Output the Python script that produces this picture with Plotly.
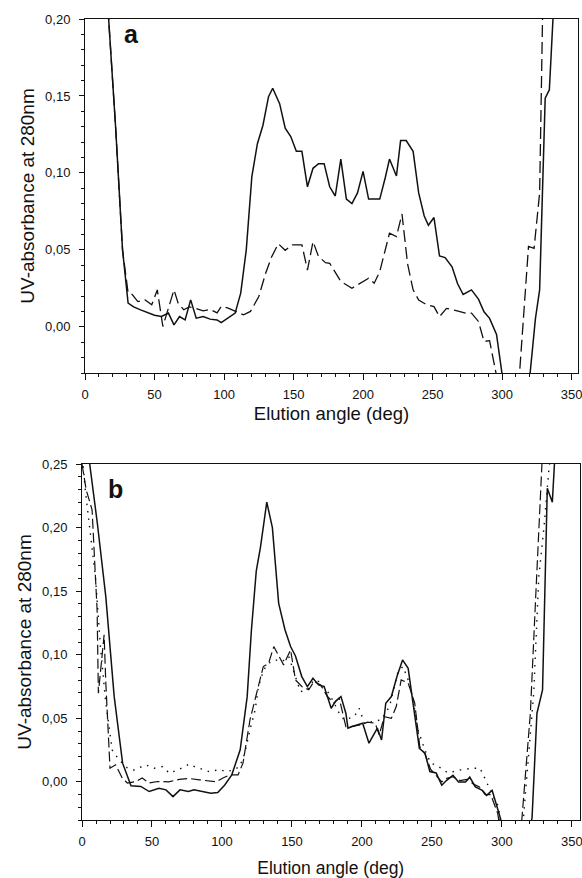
import plotly.graph_objects as go

# ---------------- Panel a data ----------------
a_solid_x = [15, 17, 22, 27, 31, 35, 40, 45, 50, 55, 60, 64, 68, 72, 76, 80, 85, 90, 95, 98,
             104, 108, 112, 116, 120, 124, 128, 132, 135, 140, 144, 148, 152, 156, 160, 164,
             168, 172, 176, 180, 184, 188, 192, 196, 200, 204, 208, 212, 216, 219, 224, 227,
             231, 236, 240, 244, 247, 251, 255, 259, 264, 268, 272, 278, 283, 287, 291, 296,
             303, 310, 318, 324, 327, 331, 334, 337, 340]
a_solid_y = [0.24, 0.20, 0.13, 0.05, 0.0154, 0.013, 0.011, 0.009, 0.0075, 0.0067, 0.0089, 0.0013,
             0.0067, 0.0045, 0.0175, 0.0056, 0.0067, 0.005, 0.0045, 0.0028, 0.0067, 0.0089,
             0.0219, 0.05, 0.0976, 0.119, 0.131, 0.1495, 0.155, 0.145, 0.129, 0.1236, 0.114,
             0.114, 0.091, 0.103, 0.106, 0.106, 0.091, 0.085, 0.109, 0.083, 0.080, 0.087, 0.101,
             0.083, 0.083, 0.083, 0.097, 0.109, 0.098, 0.121, 0.121, 0.114, 0.087, 0.072, 0.066,
             0.071, 0.046, 0.045, 0.039, 0.028, 0.021, 0.024, 0.018, 0.0098, 0.0055, -0.005,
             -0.05, -0.07, -0.05, 0.0055, 0.024, 0.1485, 0.154, 0.20, 0.26]

a_dash_x = [15, 17, 22, 27, 31, 34, 38, 43, 48, 52, 56, 60, 64, 67, 71, 75, 79, 85, 90, 95, 98,
            103, 108, 114, 119, 125, 130, 134, 139, 144, 149, 156, 160, 164, 168, 173, 176, 184,
            192, 204, 208, 212, 219, 224, 228, 232, 236, 240, 246, 251, 255, 260, 267, 273, 278,
            283, 287, 291, 300, 311, 319, 323, 327, 328.5, 330]
a_dash_y = [0.24, 0.20, 0.13, 0.05, 0.022, 0.021, 0.0164, 0.0176, 0.0143, 0.024, 0.0002, 0.012,
            0.024, 0.0154, 0.0111, 0.013, 0.0122, 0.0104, 0.0113, 0.0091, 0.0132, 0.0122, 0.0102,
            0.0078, 0.0100, 0.0197, 0.035, 0.045, 0.054, 0.0497, 0.0533, 0.0533, 0.0369, 0.0554,
            0.0456, 0.0417, 0.0413, 0.0295, 0.0251, 0.0316, 0.0283, 0.0359, 0.0608, 0.0587,
            0.0733, 0.041, 0.024, 0.0174, 0.0142, 0.0131, 0.0066, 0.012, 0.0105, 0.009, 0.0089,
            0.0035, -0.0095, -0.009, -0.05, -0.05, 0.0522, 0.051, 0.087, 0.20, 0.25]

# ---------------- Panel b data ----------------
b_solid_x = [3, 5.5, 11, 17, 23, 29, 35, 42, 48, 55, 60, 65, 70, 76, 80, 86, 92, 97, 102, 107,
             113, 118, 121, 124.5, 127.5, 132, 136, 140.5, 145, 149, 152.5, 157, 161, 165, 169,
             173, 178, 181, 185, 188.5, 190, 193, 200.5, 205, 211, 214, 217, 221, 225, 229, 233,
             236.5, 241, 245, 248.5, 253, 257, 260.5, 265, 269, 274, 277, 281, 286, 289, 293,
             299, 305, 315, 321.5, 325, 329, 332.4, 336, 338]
b_solid_y = [0.28, 0.25, 0.203, 0.1457, 0.067, 0.0147, -0.0031, -0.0036, -0.0076, -0.005, -0.0063,
             -0.0116, -0.0063, -0.0076, -0.0063, -0.0076, -0.0089, -0.0084, -0.0024, 0.0055,
             0.0252, 0.067, 0.119, 0.166, 0.1847, 0.220, 0.2, 0.1404, 0.1196, 0.1064, 0.099,
             0.0828, 0.0749, 0.0815, 0.0762, 0.0749, 0.0579, 0.0632, 0.0671, 0.054, 0.0422,
             0.0435, 0.0461, 0.0304, 0.0422, 0.033, 0.0618, 0.0671, 0.0828, 0.0959, 0.0893,
             0.0618, 0.0264, 0.0225, 0.0081, 0.007, -0.0027, 0.0012, 0.0051, -0.0001, -0.0001,
             0.0038, -0.004, -0.0067, -0.0106, -0.0067, -0.029, -0.06, -0.06, -0.0284, 0.054,
             0.0723, 0.231, 0.220, 0.26]

b_dash_x = [0, 3, 7.2, 10.8, 11.7, 15.8, 17, 20, 24, 28.8, 32.4, 38.4, 43, 48, 54, 62, 69.5, 76.7,
            84, 91, 96, 100.7, 105.5, 111.5, 115, 120, 124.7, 129.5, 133.3, 137, 144, 149, 152.5,
            157, 162, 165.7, 170.5, 175.3, 180, 183.7, 188.5, 192, 199.3, 204, 209.5, 212.3,
            216, 221, 224.5, 228, 233, 237.7, 241.3, 245, 249, 253, 257, 261, 265, 270, 275,
            280, 284, 288, 292, 297, 302, 312, 320.3, 324, 327.5, 329, 331]
b_dash_y = [0.25, 0.2296, 0.214, 0.135, 0.0697, 0.1156, 0.078, 0.0107, 0.0134, 0.0029, -0.0009,
            0.0003, 0.003, -0.0009, 0.0003, 0.0, 0.002, 0.0026, 0.0016, 0.0005, 0.0, 0.003,
            0.0055, 0.0055, 0.0147, 0.0488, 0.0697, 0.0907, 0.0933, 0.1064, 0.092, 0.1038,
            0.0802, 0.075, 0.0724, 0.0789, 0.0762, 0.0671, 0.0619, 0.066, 0.0435, 0.0435,
            0.0448, 0.047, 0.0461, 0.0369, 0.0513, 0.05, 0.0592, 0.0802, 0.0776, 0.0619, 0.0278,
            0.022, 0.01, 0.005, 0.0, 0.003, 0.004, 0.001, 0.002, -0.002, -0.004, -0.010,
            -0.010, -0.025, -0.06, -0.06, 0.054, 0.143, 0.237, 0.26, 0.28]

b_dot_x = [0, 2.4, 9.6, 13.2, 16.8, 21.6, 26.4, 32.4, 37.2, 45.6, 51.6, 57.6, 62.4, 68.3, 76.7,
           80.3, 91, 98.3, 103, 108, 112.7, 116.3, 120, 123.7, 126.1, 129.7, 133.3, 138, 143,
           147.7, 151.3, 156, 161, 165.7, 169.3, 174, 179, 183.7, 187.3, 194.5, 198, 201.7,
           207.7, 213.7, 219.7, 225.7, 229.3, 233, 236.5, 240, 245, 249, 254.4, 261.6, 270,
           278.4, 284.4, 288, 292.8, 297.6, 302, 313, 322.7, 326.3, 330, 333.5, 336]
b_dot_y = [0.26, 0.229, 0.161, 0.106, 0.064, 0.025, 0.0173, 0.011, 0.0093, 0.0134, 0.0107, 0.012,
           0.0068, 0.0093, 0.014, 0.012, 0.008, 0.0097, 0.008, 0.0093, 0.012, 0.0225, 0.041,
           0.0566, 0.075, 0.088, 0.0933, 0.096, 0.0946, 0.0986, 0.0868, 0.071, 0.0724, 0.0802,
           0.0789, 0.0737, 0.0645, 0.054, 0.0488, 0.0513, 0.0579, 0.0461, 0.0474, 0.0488,
           0.0592, 0.0867, 0.0907, 0.0802, 0.0645, 0.0409, 0.025, 0.015, 0.0122, 0.007, 0.0093,
           0.0107, 0.0107, 0.002, -0.0092, -0.0197, -0.06, -0.06, 0.070, 0.161, 0.20, 0.245, 0.27]

x_ticks = [0, 50, 100, 150, 200, 250, 300, 350]
a_y_ticks = [0.00, 0.05, 0.10, 0.15, 0.20]
b_y_ticks = [0.00, 0.05, 0.10, 0.15, 0.20, 0.25]

INK = "#111111"
FONT = "Liberation Sans, Arial, sans-serif"

fig = go.Figure()
fig.add_trace(go.Scatter(x=a_solid_x, y=a_solid_y, mode="lines", xaxis="x", yaxis="y",
                         line=dict(color=INK, width=1.5)))
fig.add_trace(go.Scatter(x=a_dash_x, y=a_dash_y, mode="lines", xaxis="x", yaxis="y",
                         line=dict(color=INK, width=1.3, dash="12px,5px")))
fig.add_trace(go.Scatter(x=b_solid_x, y=b_solid_y, mode="lines", xaxis="x2", yaxis="y2",
                         line=dict(color=INK, width=1.5)))
fig.add_trace(go.Scatter(x=b_dash_x, y=b_dash_y, mode="lines", xaxis="x2", yaxis="y2",
                         line=dict(color=INK, width=1.2, dash="10px,4px")))
fig.add_trace(go.Scatter(x=b_dot_x, y=b_dot_y, mode="lines", xaxis="x2", yaxis="y2",
                         line=dict(color=INK, width=1.4, dash="1.5px,6px")))

W, H = 582, 878


def xdom(l, r):
    return [l / W, r / W]


def ydom(t, b):
    return [1 - b / H, 1 - t / H]


xcommon = dict(
    tickvals=x_ticks, ticks="outside", ticklen=6, tickwidth=1, tickcolor=INK,
    showline=True, linecolor=INK, linewidth=1, mirror=True, showgrid=False, zeroline=False,
    automargin=False, ticklabelstandoff=3, ticklabeloverflow="allow",
    tickfont=dict(size=13, color=INK, family=FONT),
    minor=dict(dtick=10, ticks="outside", ticklen=3, tickcolor=INK, showgrid=False),
)
ycommon = dict(
    tickformat=".2f", ticks="outside", ticklen=5, tickwidth=1, tickcolor=INK,
    showline=True, linecolor=INK, linewidth=1, mirror=True, showgrid=False, zeroline=False,
    automargin=False, ticklabelstandoff=6, ticklabeloverflow="allow",
    tickfont=dict(size=13, color=INK, family=FONT),
    minor=dict(dtick=0.01, ticks="outside", ticklen=3, tickcolor=INK, showgrid=False),
    title=dict(text="UV-absorbance at 280nm", font=dict(size=19, color=INK, family=FONT),
               standoff=5),
)

fig.update_layout(
    width=W, height=H, margin=dict(l=0, r=0, t=0, b=0, autoexpand=False),
    paper_bgcolor="white", plot_bgcolor="white", showlegend=False,
    separators=", ",
    font=dict(family=FONT, color=INK),
    xaxis=dict(xcommon, domain=xdom(85, 578), range=[0, 354.6], anchor="y",
               title=dict(text="Elution angle (deg)", standoff=6,
                          font=dict(size=18.5, color=INK, family=FONT))),
    yaxis=dict(ycommon, domain=ydom(19, 373), range=[-0.03, 0.20], tickvals=a_y_ticks,
               anchor="x"),
    xaxis2=dict(xcommon, domain=xdom(82, 579.5), range=[0, 355.4], anchor="y2",
                title=dict(text="Elution angle (deg)", standoff=20,
                           font=dict(size=17.5, color=INK, family=FONT))),
    yaxis2=dict(ycommon, domain=ydom(464, 820), range=[-0.03, 0.25], tickvals=b_y_ticks,
                anchor="x2"),
)

fig.add_annotation(text="<b>a</b>", x=26.6, y=0.19, xref="x", yref="y", xanchor="left",
                   yanchor="middle", showarrow=False, font=dict(size=25, color=INK, family=FONT))
fig.add_annotation(text="<b>b</b>", x=17.3, y=0.2307, xref="x2", yref="y2", xanchor="left",
                   yanchor="middle", showarrow=False, font=dict(size=25, color=INK, family=FONT))

fig.write_html("out.html", config={"displayModeBar": False},
               post_script="document.body.style.margin='0';document.body.style.overflow='hidden';")
